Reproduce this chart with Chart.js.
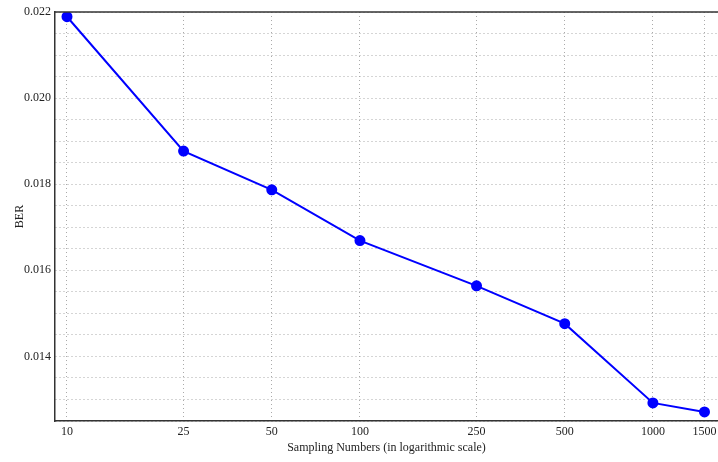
<!DOCTYPE html>
<html>
<head>
<meta charset="utf-8">
<script src="https://cdn.jsdelivr.net/npm/chart.js@4"></script>
<style>
  html, body { margin: 0; padding: 0; background: #fff; }
  #wrap { width: 718px; height: 462px; }
</style>
</head>
<body>
<div id="wrap"><canvas id="berChart" width="718" height="462"></canvas></div>
<script>
// Data
const samplingNumbers = [10, 25, 50, 100, 250, 500, 1000, 1500];
const berValues = [0.02189, 0.01877, 0.01787, 0.01669, 0.01564, 0.01476, 0.01292, 0.01271];
const xTickValues = [10, 25, 50, 100, 250, 500, 1000, 1500];
const yLabelStep = 0.002;
const yGridStep = 0.0005;

// Top frame line (the reference has a closed top border)
const topBorder = {
    id: 'topBorder',
    afterDraw(chart) {
        const { ctx, chartArea } = chart;
        ctx.save();
        ctx.strokeStyle = '#333';
        ctx.lineWidth = 1.5;
        ctx.beginPath();
        ctx.moveTo(chartArea.left, chartArea.top);
        ctx.lineTo(chartArea.right, chartArea.top);
        ctx.stroke();
        ctx.restore();
    }
};

const ctx = document.getElementById('berChart').getContext('2d');

new Chart(ctx, {
    type: 'line',
    data: {
        datasets: [{
            data: samplingNumbers.map((x, i) => ({ x: x, y: berValues[i] })),
            borderColor: '#0000ff',
            backgroundColor: '#0000ff',
            borderWidth: 2,
            pointRadius: 4.5,
            pointHoverRadius: 4.5,
            tension: 0
        }]
    },
    options: {
        responsive: false,
        animation: false,
        layout: { autoPadding: false, padding: { top: 12 } },
        plugins: {
            legend: { display: false },
            tooltip: { enabled: false }
        },
        scales: {
            x: {
                type: 'logarithmic',
                min: 9.1,
                max: 1668,
                afterBuildTicks: (scale) => {
                    scale.ticks = xTickValues.map(v => ({ value: v }));
                },
                afterFit: (scale) => {
                    scale.height = 41;
                    scale.paddingLeft = 0;
                    scale.paddingRight = 0;
                },
                ticks: {
                    autoSkip: false,
                    maxRotation: 0,
                    padding: 4,
                    color: '#222',
                    font: { family: 'Liberation Serif', size: 12 },
                    callback: (v) => String(v)
                },
                grid: {
                    color: '#aaa',
                    drawTicks: false
                },
                border: { color: '#333', width: 1.5, dash: [1, 3] },
                title: {
                    display: true,
                    text: 'Sampling Numbers (in logarithmic scale)',
                    color: '#222',
                    font: { family: 'Liberation Serif', size: 12 },
                    padding: { top: 0, bottom: 7 }
                }
            },
            y: {
                min: 0.0125,
                max: 0.022,
                afterFit: (scale) => { scale.width = 55; },
                ticks: {
                    stepSize: yGridStep,
                    padding: 4,
                    color: '#222',
                    font: { family: 'Liberation Serif', size: 12 },
                    callback: (v) => {
                        const r = v / yLabelStep;
                        return Math.abs(r - Math.round(r)) < 1e-6 ? v.toFixed(3) : '';
                    }
                },
                grid: {
                    color: '#aaa',
                    drawTicks: false
                },
                border: { color: '#333', width: 1.5, dash: [1, 3] },
                title: {
                    display: true,
                    text: 'BER',
                    color: '#222',
                    font: { family: 'Liberation Serif', size: 12 },
                    padding: { top: 13, bottom: 0 }
                }
            }
        }
    },
    plugins: [topBorder]
});
</script>
</body>
</html>
